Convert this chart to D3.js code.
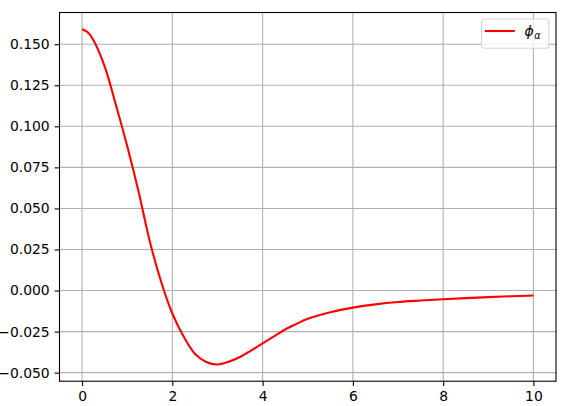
<!DOCTYPE html>
<html>
<head>
<meta charset="utf-8">
<script src="https://cdn.jsdelivr.net/npm/d3@7"></script>
<style>
  body { margin: 0; background: #fff; }
  svg { display: block; font-family: "DejaVu Sans", sans-serif; }
  .grid line { stroke: #b0b0b0; stroke-width: 1.1; }
  .axis text { font-size: 13.9px; fill: #000; }
</style>
</head>
<body>
<svg width="569" height="406"></svg>
<script>
// values
var xValues = [0, 0.125, 0.25, 0.5, 0.75, 1.0, 1.25, 1.5, 1.75, 2.0, 2.25, 2.5, 2.75,
               3.0, 3.25, 3.5, 3.75, 4.0, 4.25, 4.5, 4.75, 5.0, 5.5, 6.0,
               6.5, 7.0, 7.5, 8.0, 8.5, 9.0, 9.5, 10.0];
var phiValues = [0.1591, 0.1573, 0.1525, 0.1365, 0.1130, 0.0880, 0.0605, 0.0300, 0.0055,
                 -0.0140, -0.0280, -0.0385, -0.0435, -0.0450, -0.0433, -0.0405,
                 -0.0364, -0.0322, -0.0279, -0.0237, -0.0203, -0.0172, -0.0132,
                 -0.0104, -0.0084, -0.0070, -0.0061, -0.0053, -0.0046, -0.0040,
                 -0.0035, -0.0030];
var xTicks = [0, 2, 4, 6, 8, 10];
var yTicks = [-0.05, -0.025, 0, 0.025, 0.05, 0.075, 0.1, 0.125, 0.15];
var legendLabel = "\u03d5";
var legendSub = "\u03b1";

var svg = d3.select("svg"),
    axLeft = 59.5, axRight = 556, axTop = 12.5, axBottom = 381.2;

var data = xValues.map(function (x, i) { return [x, phiValues[i]]; });

// matplotlib style 5% margins
var xMin = d3.min(xValues), xMax = d3.max(xValues),
    yMin = d3.min(phiValues), yMax = d3.max(phiValues),
    xPad = (xMax - xMin) * 0.05, yPad = (yMax - yMin) * 0.05;

var x = d3.scaleLinear()
  .domain([xMin - xPad, xMax + xPad])
  .range([axLeft, axRight]);

var y = d3.scaleLinear()
  .domain([yMin - yPad, yMax + yPad])
  .range([axBottom, axTop]);

var fmtY = function (d) { return d3.format(".3f")(d).replace("-", "\u2212"); };

// grid
svg.append("g").attr("class", "grid")
  .selectAll("line").data(xTicks).enter().append("line")
    .attr("x1", function (d) { return x(d); })
    .attr("x2", function (d) { return x(d); })
    .attr("y1", axTop).attr("y2", axBottom);
svg.append("g").attr("class", "grid")
  .selectAll("line").data(yTicks).enter().append("line")
    .attr("y1", function (d) { return y(d); })
    .attr("y2", function (d) { return y(d); })
    .attr("x1", axLeft).attr("x2", axRight);

// axes
svg.append("g")
  .attr("class", "axis")
  .attr("transform", "translate(0," + axBottom + ")")
  .call(d3.axisBottom(x).tickValues(xTicks).tickSize(4.9).tickPadding(4.9)
          .tickFormat(d3.format("d")));
svg.append("g")
  .attr("class", "axis")
  .attr("transform", "translate(" + axLeft + ",0)")
  .call(d3.axisLeft(y).tickValues(yTicks).tickSize(4.9).tickPadding(4.9)
          .tickFormat(fmtY));
svg.selectAll(".axis .domain").remove();
svg.selectAll(".axis line").attr("stroke", "#000").attr("stroke-width", 1.1);
svg.selectAll(".axis text").attr("font-family", "DejaVu Sans");

// curve
var line = d3.line()
  .x(function (d) { return x(d[0]); })
  .y(function (d) { return y(d[1]); })
  .curve(d3.curveCatmullRom.alpha(0.5));

svg.append("path")
  .datum(data)
  .attr("fill", "none")
  .attr("stroke", "#ff0000")
  .attr("stroke-width", 2.1)
  .attr("stroke-linejoin", "round")
  .attr("d", line);

// spines
svg.append("rect")
  .attr("x", axLeft).attr("y", axTop)
  .attr("width", axRight - axLeft).attr("height", axBottom - axTop)
  .attr("fill", "none")
  .attr("stroke", "#000")
  .attr("stroke-width", 1.1);

// legend
var lg = svg.append("g").attr("transform", "translate(" + (axRight - 74.5) + "," + (axTop + 6.5) + ")");
lg.append("rect")
  .attr("width", 67.3).attr("height", 29.3)
  .attr("rx", 2.8)
  .attr("fill", "#fff").attr("fill-opacity", 0.8)
  .attr("stroke", "#d6d6d6").attr("stroke-width", 1.1);
lg.append("line")
  .attr("x1", 3.3).attr("x2", 33.3)
  .attr("y1", 12).attr("y2", 12)
  .attr("stroke", "#ff0000").attr("stroke-width", 2.1);
var lt = lg.append("text")
  .attr("x", 43).attr("y", 17)
  .attr("font-family", "DejaVu Sans")
  .attr("font-size", "13.9px")
  .attr("font-style", "italic");
lt.append("tspan").text(legendLabel);
lt.append("tspan")
  .attr("font-size", "9.7px")
  .attr("dy", 3)
  .attr("dx", 0.5)
  .text(legendSub);
</script>
</body>
</html>
